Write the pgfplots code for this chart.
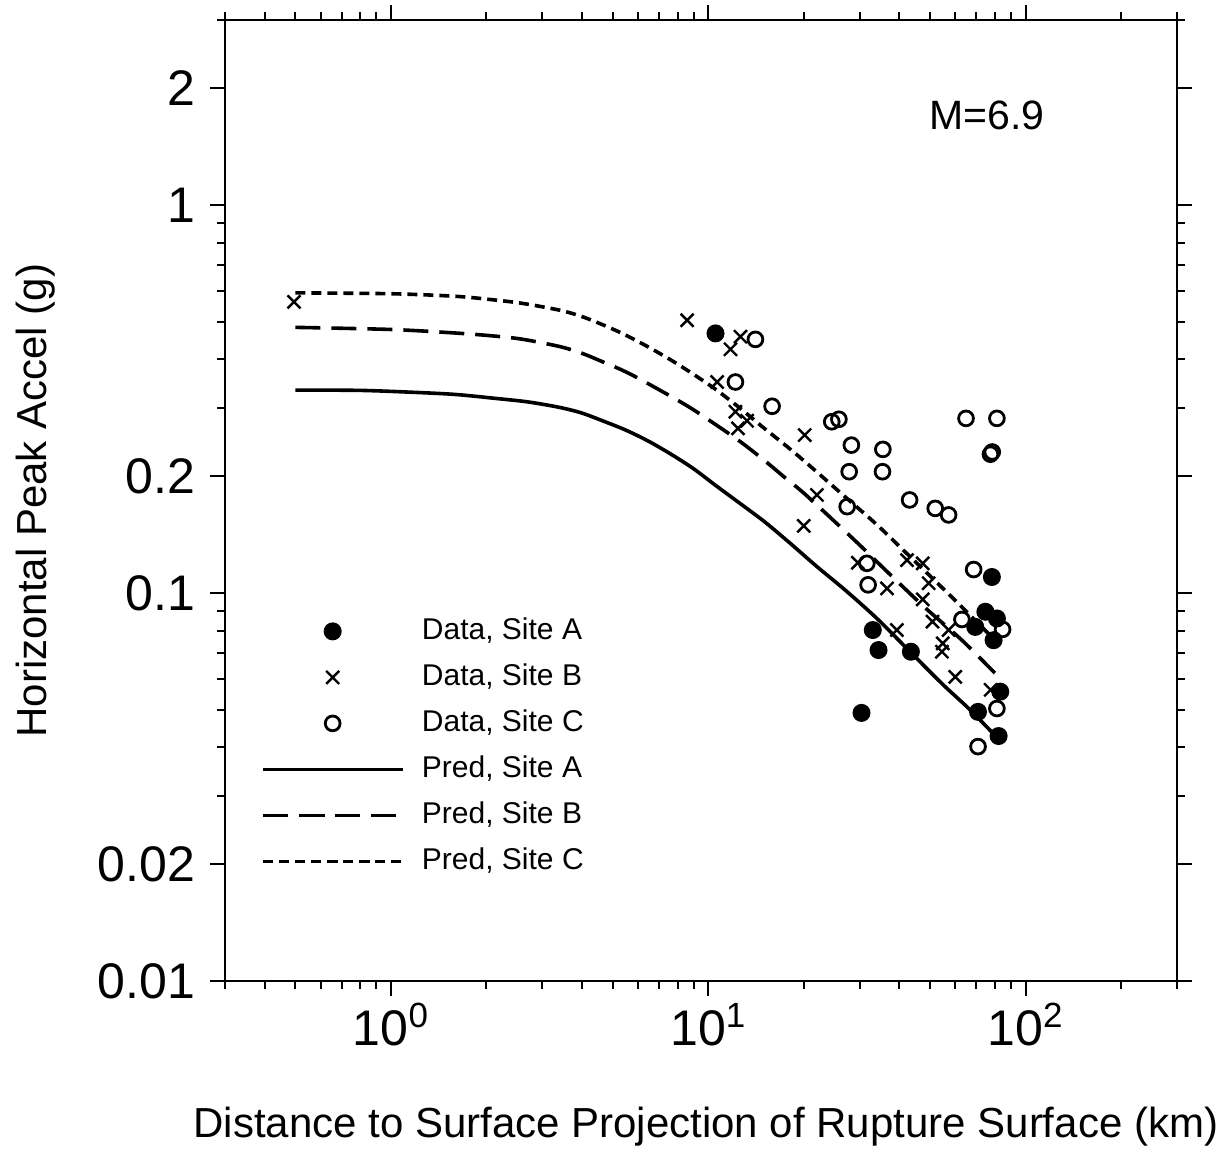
\documentclass[border=0pt]{standalone}
\usepackage{fontspec}
\setmainfont{Liberation Sans}
\usepackage{pgfplots}
\pgfplotsset{compat=1.18}
\begin{document}
\begin{tikzpicture}
\useasboundingbox (-112.5pt,-85pt) rectangle (503pt,490.5pt);
\begin{axis}[
  scale only axis, width=476pt, height=480.5pt,
  xmode=log, ymode=log,
  xmin=0.3, xmax=300, ymin=0.01, ymax=3,
  axis line style={line width=1.3pt},
  every tick/.style={line width=1pt, black},
  tick align=outside,
  major tick length=7.5pt, minor tick length=4pt,
  xtick={1,10,100},
  xticklabels={10\textsuperscript{0},10\textsuperscript{1},10\textsuperscript{2}},
  minor xtick={0.3,0.4,0.5,0.6,0.7,0.8,0.9,2,3,4,5,6,7,8,9,20,30,40,50,60,70,80,90,200,300},
  ytick={0.01,0.02,0.1,0.2,1,2},
  yticklabels={0.01,0.02,0.1,0.2,1,2},
  minor ytick={0.03,0.04,0.05,0.06,0.07,0.08,0.09,0.3,0.4,0.5,0.6,0.7,0.8,0.9,3},
  ticklabel style={font=\fontsize{25}{30}\selectfont},
  yticklabel style={xshift=-4pt},
  xlabel={Distance to Surface Projection of Rupture Surface (km)},
  ylabel={Horizontal Peak Accel (g)},
  label style={font=\fontsize{21}{25}\selectfont},
  x label style={at={(axis description cs:0.505,-0.1519)}, anchor=center},
  y label style={at={(axis description cs:-0.199,0.5)}, anchor=center},
  legend style={at={(rel axis cs:0.0378,0.3788)}, anchor=north west, draw=none, fill=none,
    inner sep=0pt, font=\fontsize{15}{18}\selectfont, row sep=9pt, column sep=9pt,
    nodes={inner sep=0pt, text height=11pt, text depth=3pt}},
  legend cell align=left,
  legend image code/.code={\draw[mark repeat=2,mark phase=2,#1] plot coordinates {(0pt,0pt) (34.75pt,0pt) (69.5pt,0pt)};},
]
% Data, Site A
\addplot[only marks, mark=*, mark size=4.1pt, mark options={fill=black, draw=black, line width=0.8pt}] coordinates {
(10.54,0.467) (30.4,0.0491) (33.0,0.0803) (34.4,0.0713) (43.5,0.0706) (70.8,0.0494)
(82.2,0.0428) (83.2,0.0557) (78.3,0.110) (69.4,0.0818) (74.7,0.0895) (81.2,0.086) (79.3,0.0756)
};
\addlegendentry{Data, Site A}
% Data, Site B
\addplot[only marks, mark=x, mark size=4.6pt, mark options={draw=black, line width=1.2pt}] coordinates {
(0.495,0.563) (8.58,0.505) (12.63,0.458) (11.75,0.425) (10.66,0.350) (12.18,0.2934) (13.25,0.278)
(12.41,0.2658) (20.13,0.2554) (20.0,0.149) (22.0,0.179) (29.6,0.1197) (36.6,0.1028) (39.3,0.0803)
(42.3,0.1216) (47.4,0.1193) (47.4,0.0963) (49.5,0.106) (50.9,0.0844) (54.8,0.0742) (54.5,0.0706)
(57.2,0.0803) (60.0,0.0608) (77.6,0.0563)
};
\addlegendentry{Data, Site B}
% Data, Site C
\addplot[only marks, mark=o, mark size=3.7pt, mark options={draw=black, line width=1.4pt}] coordinates {
(14.08,0.4507) (12.18,0.350) (15.89,0.303) (24.5,0.2764) (25.8,0.2805) (28.25,0.2406) (35.5,0.2346)
(27.8,0.2055) (35.4,0.2055) (27.4,0.167) (43.1,0.1738) (51.9,0.1653) (57.2,0.159) (31.6,0.1193)
(31.9,0.105) (68.6,0.115) (63.0,0.0855) (84.6,0.0806) (81.2,0.0504) (70.8,0.0402) (64.9,0.282)
(81.2,0.282) (77.5,0.228) (78.5,0.231)
};
\addlegendentry{Data, Site C}
% Pred, Site A
\addplot[black, line width=1.8pt, smooth] coordinates {
(0.5,0.3335) (0.8,0.333) (1.2,0.329) (1.6,0.325) (2.1,0.318) (2.7,0.311) (3.4,0.301) (4.0,0.291)
(4.75,0.276) (5.5,0.263) (6.5,0.246) (7.7,0.227) (9.0,0.209) (10.5,0.190) (12.5,0.171) (15,0.153)
(18,0.135) (22,0.117) (27,0.1018) (34,0.086) (43.7,0.070) (55,0.058) (66,0.0505) (80,0.043)
};
\addlegendentry{Pred, Site A}
% Pred, Site B
\addplot[black, line width=1.8pt, dash pattern=on 12.5pt off 5.5pt, smooth] coordinates {
(0.5,0.484) (1.0,0.478) (1.6,0.468) (2.1,0.460) (2.6,0.451) (3.4,0.432) (4.0,0.415) (4.6,0.396)
(5.3,0.377) (5.9,0.361) (6.7,0.341) (7.7,0.320) (8.8,0.300) (10.0,0.280) (12.5,0.247) (15,0.220)
(17.5,0.198) (20,0.181) (25,0.153) (30,0.133) (37,0.1126) (48,0.092) (63,0.0756) (80,0.0622)
};
\addlegendentry{Pred, Site B}
% Pred, Site C
\addplot[black, line width=1.8pt, dash pattern=on 5pt off 3pt, smooth] coordinates {
(0.5,0.594) (1.0,0.591) (1.6,0.582) (2.1,0.570) (2.6,0.558) (3.4,0.536) (4.0,0.516) (4.75,0.488)
(5.5,0.462) (6.5,0.430) (7.7,0.397) (9.0,0.366) (10.5,0.336) (12.5,0.301) (15,0.266) (18,0.236)
(21,0.212) (27,0.177) (34,0.150) (42,0.127) (58.5,0.0977) (80,0.0756)
};
\addlegendentry{Pred, Site C}
\node[font=\fontsize{20.5}{24}\selectfont, anchor=center] at (rel axis cs:0.8004,0.9011) {M=6.9};
\end{axis}
\end{tikzpicture}
\end{document}
